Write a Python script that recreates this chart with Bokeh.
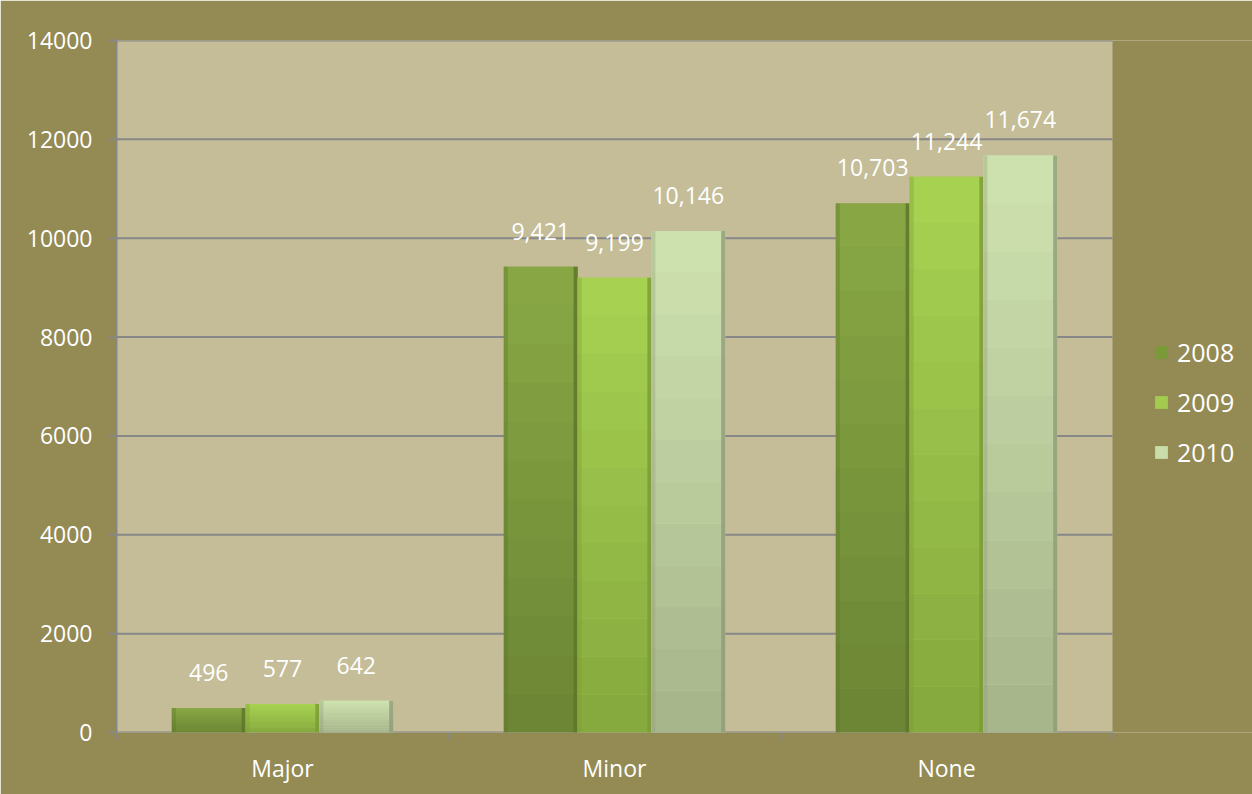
from bokeh.plotting import figure
from bokeh.models import (Range1d, FixedTicker, ColumnDataSource, Legend, LegendItem,
                          CustomJSTickFormatter, BoxAnnotation)
from bokeh.embed import file_html
from bokeh.resources import INLINE
from bokeh.core.properties import value

categories = ["Major", "Minor", "None"]
years = ["2008", "2009", "2010"]
v2008 = [496, 9421, 10703]
v2009 = [577, 9199, 11244]
v2010 = [642, 10146, 11674]
y_ticks = [0, 2000, 4000, 6000, 8000, 10000, 12000, 14000]

series = [v2008, v2009, v2010]
# gradient colours (bottom, top) per series, plus bevel highlight and edge shade
grad_bottom = ["#6b8434", "#86a83e", "#a6b48a"]
grad_top = ["#89a945", "#a7d352", "#cfe3b0"]
legend_colors = ["#7a9a3a", "#a2cb50", "#c9dcaa"]
top_colors = ["#a3c85a", "#c4e670", "#f4fae6"]
edge_colors = ["#5c7428", "#7a9a35", "#8f9c78"]

FONT = "Open Sans"
BG = "#948a54"
PLOT_BG = "#c4bd97"
GRID = "#878787"

N_CAT = len(categories)
PLOT_W = 996          # px width of the tan plot area
FRAME_W, FRAME_H = 1136, 692
x_end = N_CAT * FRAME_W / PLOT_W

p = figure(frame_width=FRAME_W, frame_height=FRAME_H, output_backend="svg",
           toolbar_location=None,
           x_range=Range1d(0, x_end), y_range=Range1d(0, 14000),
           min_border_left=116, min_border_right=0, min_border_top=40,
           min_border_bottom=62)
p.background_fill_color = BG
p.border_fill_color = BG
p.outline_line_color = None

# tan plot area only over the categories
p.add_layout(BoxAnnotation(left=0, right=N_CAT, fill_color=PLOT_BG, fill_alpha=1,
                           line_color=None, level="underlay"))


def hex_to_rgb(h):
    h = h.lstrip("#")
    return tuple(int(h[i:i + 2], 16) for i in (0, 2, 4))


def mix(c1, c2, t):
    a, b = hex_to_rgb(c1), hex_to_rgb(c2)
    return "#%02x%02x%02x" % tuple(int(round(a[i] + (b[i] - a[i]) * t)) for i in range(3))


# horizontal gridlines (incl. baseline) limited to plot area
p.segment(x0=[0] * len(y_ticks), x1=[N_CAT] * len(y_ticks), y0=y_ticks, y1=y_ticks,
          line_color=GRID, line_width=2)

bar_w = 1 / 4.5
px_per_unit = FRAME_H / 14000.0
unit_per_px = 1 / px_per_unit
x_per_px = x_end / FRAME_W
N_BANDS = 12

renderers = []
for j, vals in enumerate(series):
    xs = [i + 0.5 + (j - 1) * bar_w for i in range(N_CAT)]
    src = ColumnDataSource(dict(x=xs, top=vals,
                                label=[f"{v:,}" for v in vals]))
    r = p.vbar(x="x", top="top", bottom=0, width=bar_w, source=src,
               fill_color=legend_colors[j], line_color=None)
    renderers.append(r)
    # vertical gradient bands
    for k in range(N_BANDS):
        t = (k + 0.5) / N_BANDS
        bsrc = ColumnDataSource(dict(x=xs,
                                     b=[v * k / N_BANDS for v in vals],
                                     t=[v * (k + 1) / N_BANDS for v in vals]))
        p.vbar(x="x", top="t", bottom="b", width=bar_w, source=bsrc,
               fill_color=mix(grad_bottom[j], grad_top[j], t), line_color=None)
    # side shading
    esrc = ColumnDataSource(dict(xl=[x - bar_w / 2 + 2 * x_per_px for x in xs],
                                 xr=[x + bar_w / 2 - 2 * x_per_px for x in xs],
                                 top=vals,
                                 bb=[max(v - 9 * unit_per_px, 0) for v in vals]))
    p.vbar(x="xr", top="top", bottom=0, width=4 * x_per_px, source=esrc,
           fill_color=edge_colors[j], line_color=None, fill_alpha=0.8)
    p.vbar(x="xl", top="top", bottom=0, width=4 * x_per_px, source=esrc,
           fill_color=edge_colors[j], line_color=None, fill_alpha=0.35)
    # top bevel highlight
    p.vbar(x="x", top="top", bottom="bb", width=bar_w - 6 * x_per_px, source=esrc,
           fill_color=top_colors[j], line_color=None, fill_alpha=0.75)
    p.text(x="x", y="top", text="label", source=src, y_offset=-27,
           text_align="center", text_baseline="bottom", text_color="white",
           text_font=value(FONT), text_font_size="23px")

# axes
p.yaxis.ticker = FixedTicker(ticks=y_ticks)
p.yaxis.formatter = CustomJSTickFormatter(code="return tick.toFixed(0);")
p.yaxis.axis_line_color = GRID
p.yaxis.axis_line_width = 2
p.yaxis.major_tick_line_color = GRID
p.yaxis.major_tick_line_width = 2
p.yaxis.major_tick_out = 8
p.yaxis.major_tick_in = 0
p.yaxis.minor_tick_line_color = None
p.yaxis.major_label_text_color = "white"
p.yaxis.major_label_text_font = FONT
p.yaxis.major_label_text_font_size = "23px"
p.yaxis.major_label_standoff = 16

cat_centers = [i + 0.5 for i in range(N_CAT)]
p.xaxis.ticker = FixedTicker(ticks=cat_centers,
                             minor_ticks=[float(i) for i in range(N_CAT + 1)])
p.xaxis.major_label_overrides = {c: n for c, n in zip(cat_centers, categories)}
p.xaxis.axis_line_color = None
p.xaxis.major_tick_line_color = None
p.xaxis.minor_tick_line_color = GRID
p.xaxis.minor_tick_out = 7
p.xaxis.minor_tick_in = 0
p.xaxis.minor_tick_line_width = 1
p.xaxis.major_label_text_color = "white"
p.xaxis.major_label_text_font = FONT
p.xaxis.major_label_text_font_size = "23px"
p.xaxis.major_label_standoff = 12

p.xgrid.grid_line_color = None
p.ygrid.grid_line_color = None

legend = Legend(items=[LegendItem(label=y, renderers=[r]) for y, r in zip(years, renderers)],
                location=(PLOT_W + 37, 259), orientation="vertical")
legend.background_fill_alpha = 0
legend.border_line_alpha = 0
legend.label_text_color = "white"
legend.label_text_font = FONT
legend.label_text_font_size = "25px"
legend.glyph_width = 16
legend.glyph_height = 16
legend.label_height = 22
legend.spacing = 16
legend.margin = 0
legend.padding = 4
legend.label_standoff = 8
p.add_layout(legend)

open("out.html", "w").write(file_html(p, INLINE))
